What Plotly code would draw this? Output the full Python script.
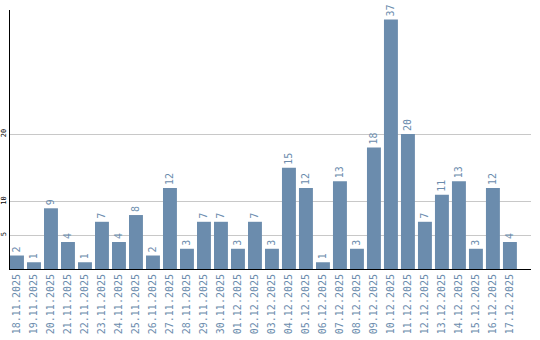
import plotly.graph_objects as go

dates = ["18.11.2025","19.11.2025","20.11.2025","21.11.2025","22.11.2025","23.11.2025",
         "24.11.2025","25.11.2025","26.11.2025","27.11.2025","28.11.2025","29.11.2025",
         "30.11.2025","01.12.2025","02.12.2025","03.12.2025","04.12.2025","05.12.2025",
         "06.12.2025","07.12.2025","08.12.2025","09.12.2025","10.12.2025","11.12.2025",
         "12.12.2025","13.12.2025","14.12.2025","15.12.2025","16.12.2025","17.12.2025"]
values = [2,1,9,4,1,7,4,8,2,12,3,7,7,3,7,3,15,12,1,13,3,18,37,20,7,11,13,3,12,4]
ytick_vals = [5, 10, 20]

color = "#6b8cad"
fig = go.Figure(go.Bar(
    x=dates, y=values, marker_color=color, marker_line_width=0,
    text=[str(v) for v in values], textposition="outside", textangle=-90,
    textfont=dict(family="DejaVu Sans Mono", size=10, color=color),
    cliponaxis=False,
))
fig.update_layout(
    width=540, height=340, margin=dict(l=10, r=9, t=10, b=71),
    paper_bgcolor="white", plot_bgcolor="white", bargap=0.18, showlegend=False,
    xaxis=dict(type="category", tickangle=-90, showline=True, linecolor="black", linewidth=1,
               tickfont=dict(family="DejaVu Sans Mono", size=10, color=color),
               showgrid=False, ticks="", range=[-0.41, 30.24], automargin=False),
    yaxis=dict(range=[0, 38.4], tickvals=ytick_vals, showline=True, linecolor="black", linewidth=1,
               gridcolor="#c8c8c8", gridwidth=1, zeroline=False, ticks="", ticklabelstandoff=0,
               tickangle=-90, automargin=False,
               tickfont=dict(family="DejaVu Sans Mono", size=7, color="black")),
)
fig.write_html("out.html")
